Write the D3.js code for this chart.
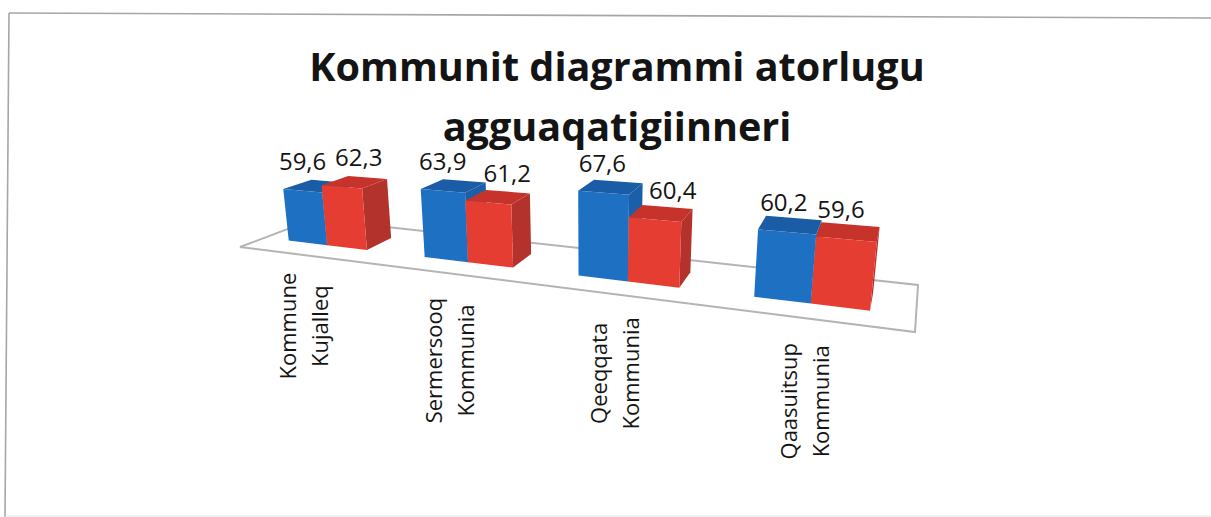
<!DOCTYPE html>
<html>
<head>
<meta charset="utf-8">
<script src="https://cdn.jsdelivr.net/npm/d3@7"></script>
<style>
  body { margin: 0; background: #fff; }
  svg { display: block; }
  text { font-family: "Open Sans", "Noto Sans", sans-serif; fill: #141414; }
</style>
</head>
<body>
<div id="canvas"></div>
<script>
"use strict"

// DATA

let titleLines = ["Kommunit diagrammi atorlugu", "agguaqatigiinneri"];
let categories = ["Kommune Kujalleq", "Sermersooq Kommunia", "Qeeqqata Kommunia", "Qaasuitsup Kommunia"];
let categoryLines = [["Kommune", "Kujalleq"], ["Sermersooq", "Kommunia"], ["Qeeqqata", "Kommunia"], ["Qaasuitsup", "Kommunia"]];
let blueValues = [59.6, 63.9, 67.6, 60.2];
let redValues = [62.3, 61.2, 60.4, 59.6];

// LAYOUT

let svgWidth = 1211;
let svgHeight = 517;

// floor corners as seen in the picture, everything else is projected from these
let floorFrontLeft = [240, 247];
let floorFrontRight = [915, 332];
let floorBackLeft = [314, 219];
let floorBackRight = [918, 285];

let barFront = 0.335; // bars stand in this part of the floor depth
let barBack = 0.72;

// excel moved these by hand, so they don't follow the bars exactly
let labelDx = [[0, 17], [0, 19], [-1, 18], [-3, -5]];
let categoryDy = [71, 87, 79, 83];

let colors = {
    blue: { front: "#1d70c2", top: "#1a5da6", side: "#1a5fa8" },
    red: { front: "#e53d32", top: "#c5332b", side: "#b3322b" }
};

let svg = d3.select("#canvas")
    .append("svg")
    .attr("width", svgWidth)
    .attr("height", svgHeight);

// SCALES

let xScale = d3.scaleBand()
    .domain(categories)
    .range([-0.004, 0.996])
    .paddingInner(0.41)
    .paddingOuter(0.205);

let seriesScale = d3.scaleBand()
    .domain(["blue", "red"])
    .range([0, xScale.bandwidth()]);

let yScale = d3.scaleLinear()
    .domain([40, 70])
    .range([0, 79.5]);

// PROJECTION

// the far end of the chart is smaller, so equal steps are not equal on screen
function perspective(t) {
    return t / (t + 1.3 * (1 - t));
}

function floorPoint(t, depth) {
    let u = perspective(t);
    let left = d3.interpolate(floorFrontLeft, floorBackLeft)(depth);
    let right = d3.interpolate(floorFrontRight, floorBackRight)(depth);
    return d3.interpolate(left, right)(u);
}

function project(t, depth, value) {
    let base = floorPoint(t, depth);
    let u = perspective(t);
    let h = yScale(value) * (0.98 + 0.37 * u) * (1 - 0.1 * (depth - barFront));
    let lean = (base[0] - 590) * 0.00035; // verticals fan out a bit
    return [base[0] + lean * h, base[1] - h];
}

// FRAME

let frameLines = [
    [[9, 13], [svgWidth, 18]],
    [[9, 13], [5, svgHeight]]
];

svg.selectAll(".frame")
    .data(frameLines)
    .join("line")
    .attr("class", "frame")
    .attr("x1", function (d) { return d[0][0]; })
    .attr("y1", function (d) { return d[0][1]; })
    .attr("x2", function (d) { return d[1][0]; })
    .attr("y2", function (d) { return d[1][1]; })
    .attr("stroke", "#a6a6a6")
    .attr("stroke-width", 1.6);

svg.append("line")
    .attr("x1", 5)
    .attr("y1", svgHeight - 1)
    .attr("x2", svgWidth)
    .attr("y2", svgHeight - 1)
    .attr("stroke", "#e4e4e4");

// FLOOR

svg.append("path")
    .attr("d", d3.line()([floorFrontLeft, floorFrontRight, floorBackRight, floorBackLeft]) + "Z")
    .attr("fill", "#fff")
    .attr("stroke", "#b4b4b4")
    .attr("stroke-width", 2);

// BARS

let bars = [];
categories.forEach(function (category, i) {
    bars.push({ category: category, index: i, series: "blue", value: blueValues[i] });
    bars.push({ category: category, index: i, series: "red", value: redValues[i] });
});

let polygon = d3.line();

let barGroups = svg.selectAll(".bar")
    .data(bars)
    .join("g")
    .attr("class", "bar");

barGroups.each(function (d) {
    let t0 = xScale(d.category) + seriesScale(d.series);
    let t1 = t0 + seriesScale.bandwidth();
    let g = d3.select(this);
    let c = colors[d.series];

    g.append("path") // side
        .attr("d", polygon([
            project(t1, barFront, 40), project(t1, barBack, 40),
            project(t1, barBack, d.value), project(t1, barFront, d.value)
        ]) + "Z")
        .attr("fill", c.side);

    g.append("path") // top
        .attr("d", polygon([
            project(t0, barFront, d.value), project(t1, barFront, d.value),
            project(t1, barBack, d.value), project(t0, barBack, d.value)
        ]) + "Z")
        .attr("fill", c.top);

    g.append("path") // front
        .attr("d", polygon([
            project(t0, barFront, 40), project(t1, barFront, 40),
            project(t1, barFront, d.value), project(t0, barFront, d.value)
        ]) + "Z")
        .attr("fill", c.front);
});

// VALUE LABELS

svg.selectAll(".value")
    .data(bars)
    .join("text")
    .attr("class", "value")
    .attr("x", function (d) {
        let tMid = xScale(d.category) + seriesScale(d.series) + seriesScale.bandwidth() / 2;
        return project(tMid, barFront, d.value)[0] + labelDx[d.index][d.series == "blue" ? 0 : 1];
    })
    .attr("y", function (d) {
        let tMid = xScale(d.category) + seriesScale(d.series) + seriesScale.bandwidth() / 2;
        return project(tMid, barFront, d.value)[1] - 21;
    })
    .style("text-anchor", "middle")
    .style("font-size", "24px")
    .text(function (d) { return String(d.value).replace(".", ","); });

// CATEGORY LABELS

categories.forEach(function (category, i) {
    let p = floorPoint(xScale(category) + xScale.bandwidth() / 2, 0);
    let label = svg.append("text")
        .attr("transform", "translate(" + p[0] + "," + (p[1] + categoryDy[i]) + ") rotate(-90)")
        .style("text-anchor", "middle")
        .style("font-size", "22px");
    categoryLines[i].forEach(function (line, j) {
        label.append("tspan")
            .attr("x", 0)
            .attr("y", j == 0 ? -9 : 23)
            .text(line);
    });
});

// TITLE

svg.selectAll(".title")
    .data(titleLines)
    .join("text")
    .attr("class", "title")
    .attr("x", 617)
    .attr("y", function (d, i) { return 81 + i * 60; })
    .style("text-anchor", "middle")
    .style("font-size", "39.6px")
    .style("font-weight", "700")
    .text(function (d) { return d; });
</script>
</body>
</html>
